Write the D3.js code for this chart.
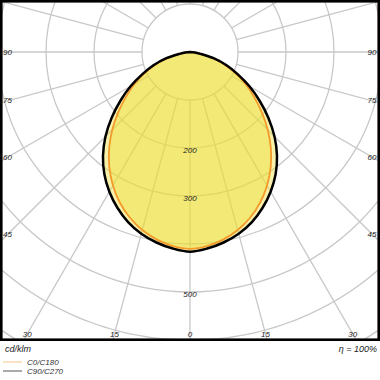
<!DOCTYPE html>
<html>
<head>
<meta charset="utf-8">
<script src="https://cdn.jsdelivr.net/npm/d3@7"></script>
<style>
body{margin:0;background:#fff;}
text{font-family:"Liberation Sans",Arial,sans-serif;font-style:italic;}
</style>
</head>
<body>
<svg id="chart" width="380" height="380"></svg>
<script>
// gamma angles (deg from nadir) and intensities in cd/klm
var gammas = [0,5,10,15,20,25,30,35,40,45,50,55,60,65,70,75,80,85,90];
var c0c180 = [410,406,397,384,367,346,321,293,262,229,195,163,134,104,76,49,20,9,0];
var c90c270 = [416,411,403,392,377,358,336,311,282,249,213,177,143,110,81,52,22,10,0];
var rings = [100,200,300,400,500,600,700];
var ringLabels = [200,300,500];
var spokeAngles = d3.range(0,360,15);
var edgeLabels = [0,15,30,45,60,75,90];

var frame = {x0:1.3, y0:1.3, x1:378.7, y1:339.7};
var cx = 190, cy = 52;
var svg = d3.select('#chart');
var r = d3.scaleLinear().domain([0,700]).range([0,336]);

svg.append('clipPath').attr('id','clip')
	.append('rect').attr('x',frame.x0).attr('y',frame.y0)
	.attr('width',frame.x1-frame.x0).attr('height',frame.y1-frame.y0);

var plot = svg.append('g').attr('clip-path','url(#clip)');
var g = plot.append('g').attr('transform','translate('+cx+','+cy+')');

// grid
g.selectAll('circle.ring').data(rings).enter().append('circle')
	.attr('r',function(d){return r(d);})
	.attr('fill','none').attr('stroke','#c8c8c8').attr('stroke-width',1.3);

g.selectAll('line.spoke').data(spokeAngles).enter().append('line')
	.attr('x1',function(a){return r(100)*Math.sin(a*Math.PI/180);})
	.attr('y1',function(a){return r(100)*Math.cos(a*Math.PI/180);})
	.attr('x2',function(a){return 500*Math.sin(a*Math.PI/180);})
	.attr('y2',function(a){return 500*Math.cos(a*Math.PI/180);})
	.attr('stroke','#c8c8c8').attr('stroke-width',1.3);

// curves: right half then left half (d3 angle 0 = up, clockwise)
var toPoints = function(vals){
	var pts = [];
	for(var i=gammas.length-1;i>=0;i--) pts.push([Math.PI-gammas[i]*Math.PI/180, vals[i]]);
	for(var j=1;j<gammas.length;j++) pts.push([Math.PI+gammas[j]*Math.PI/180, vals[j]]);
	return pts;
};
var line = d3.lineRadial()
	.angle(function(d){return d[0];})
	.radius(function(d){return r(d[1]);})
	.curve(d3.curveCatmullRom);

var black = toPoints(c90c270), orange = toPoints(c0c180);
g.append('path').attr('d',line(black)+'Z').attr('fill','rgb(236,222,50)').attr('fill-opacity',0.42);
g.append('path').attr('d',line(orange)+'Z').attr('fill','rgb(236,222,50)').attr('fill-opacity',0.42);
g.append('path').attr('d',line(orange)).attr('fill','none').attr('stroke','#f39a2a').attr('stroke-width',1.8);
g.append('path').attr('d',line(black)).attr('fill','none').attr('stroke','#000').attr('stroke-width',2.5);

// ring labels
g.selectAll('text.ring').data(ringLabels).enter().append('text')
	.attr('x',0).attr('y',function(d){return r(d)+2.5;})
	.attr('text-anchor','middle').attr('dominant-baseline','central')
	.attr('font-size',8).attr('fill','#222')
	.text(function(d){return d;});

// angle labels at the frame
var labelPos = [];
edgeLabels.forEach(function(a){
	[-1,1].forEach(function(s){
		if(a===0 && s===1) return;
		var t = a*Math.PI/180, p;
		var side = s<0 ? 7.5 : 372;
		var ySide = a===90 ? cy : cy + Math.abs(side-cx)/Math.tan(t);
		if(ySide < 334) p = [side, ySide];
		else p = [cx + s*(334-cy)*Math.tan(t), 334];
		labelPos.push({a:a, x:p[0], y:p[1]});
	});
});
plot.selectAll('text.edge').data(labelPos).enter().append('text')
	.attr('x',function(d){return d.x;}).attr('y',function(d){return d.y;})
	.attr('text-anchor','middle').attr('dominant-baseline','central')
	.attr('font-size',8).attr('fill','#222')
	.text(function(d){return d.a;});

// frame
svg.append('rect').attr('x',frame.x0).attr('y',frame.y0)
	.attr('width',frame.x1-frame.x0).attr('height',frame.y1-frame.y0)
	.attr('fill','none').attr('stroke','#000').attr('stroke-width',2.6);

// footer
svg.append('text').attr('x',5).attr('y',352).attr('font-size',9).attr('fill','#222').text('cd/klm');
svg.append('text').attr('x',377).attr('y',352).attr('text-anchor','end').attr('font-size',9).attr('fill','#222').text('η = 100%');

var legend = [{name:'C0/C180', color:'#f6c48a'},{name:'C90/C270', color:'#555'}];
var lg = svg.selectAll('g.legend').data(legend).enter().append('g')
	.attr('transform',function(d,i){return 'translate(0,'+(362+i*9)+')';});
lg.append('line').attr('x1',3).attr('x2',22).attr('y1',0).attr('y2',0)
	.attr('stroke',function(d){return d.color;}).attr('stroke-width',1);
lg.append('text').attr('x',27).attr('y',3).attr('font-size',8).attr('fill','#333')
	.text(function(d){return d.name;});
</script>
</body>
</html>
